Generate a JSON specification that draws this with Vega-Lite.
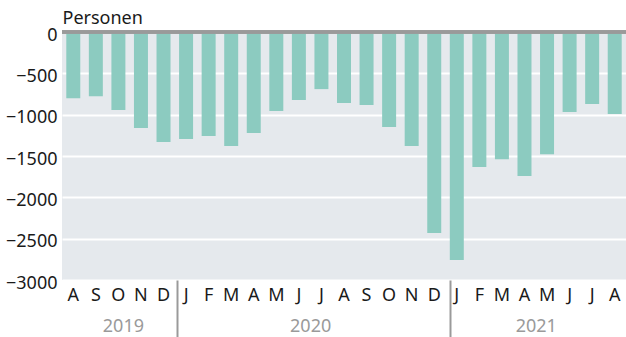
{
  "$schema": "https://vega.github.io/schema/vega-lite/v6.json",
  "width": 564,
  "height": 248,
  "autosize": {"type": "none"},
  "padding": {"left": 62, "top": 32, "right": 0, "bottom": 57},
  "background": "white",
  "config": {"font": "Noto Sans", "view": {"fill": "#e5e9ed", "stroke": null}},
  "data": {"values": [
    {"ym": "2019-08", "v": -800},
    {"ym": "2019-09", "v": -776},
    {"ym": "2019-10", "v": -945},
    {"ym": "2019-11", "v": -1162},
    {"ym": "2019-12", "v": -1331},
    {"ym": "2020-01", "v": -1295},
    {"ym": "2020-02", "v": -1259},
    {"ym": "2020-03", "v": -1380},
    {"ym": "2020-04", "v": -1222},
    {"ym": "2020-05", "v": -957},
    {"ym": "2020-06", "v": -824},
    {"ym": "2020-07", "v": -691},
    {"ym": "2020-08", "v": -860},
    {"ym": "2020-09", "v": -884},
    {"ym": "2020-10", "v": -1150},
    {"ym": "2020-11", "v": -1380},
    {"ym": "2020-12", "v": -2430},
    {"ym": "2021-01", "v": -2757},
    {"ym": "2021-02", "v": -1633},
    {"ym": "2021-03", "v": -1540},
    {"ym": "2021-04", "v": -1742},
    {"ym": "2021-05", "v": -1480},
    {"ym": "2021-06", "v": -969},
    {"ym": "2021-07", "v": -872},
    {"ym": "2021-08", "v": -993}
  ]},
  "layer": [
    {
      "mark": {"type": "bar", "color": "#8ccbc0"},
      "encoding": {
        "x": {
          "field": "ym", "type": "ordinal", "sort": null,
          "scale": {"paddingInner": 0.38, "paddingOuter": 0.19},
          "axis": {
            "orient": "bottom", "title": null, "domain": false, "ticks": false,
            "labelAngle": 0, "labelFontSize": 18, "labelColor": "#1a1a1a",
            "labelPadding": 6, "labelOverlap": false,
            "labelExpr": "['J','F','M','A','M','J','J','A','S','O','N','D'][toNumber(substring(datum.value,5,7))-1]"
          }
        },
        "y": {
          "field": "v", "type": "quantitative",
          "scale": {"domain": [-3000, 0], "nice": false, "zero": false},
          "axis": {
            "values": [-3000, -2500, -2000, -1500, -1000, -500, 0],
            "format": "d", "grid": true, "gridColor": "white", "gridWidth": 2,
            "domain": false, "ticks": false, "labelPadding": 5,
            "labelFontSize": 18, "labelColor": "#1a1a1a",
            "labelBaseline": "middle", "labelOffset": 3,
            "title": "Personen", "titleAngle": 0, "titleAlign": "left",
            "titleBaseline": "alphabetic", "titleX": 0, "titleY": -9,
            "titleFontSize": 18, "titleFontWeight": "normal", "titleColor": "#1a1a1a"
          }
        }
      }
    },
    {
      "mark": {"type": "rule", "color": "#9a9a9a", "strokeWidth": 2.5},
      "encoding": {"y": {"datum": 0}}
    },
    {
      "data": {"values": [
        {"year": "2019", "pos": 2.7},
        {"year": "2020", "pos": 11},
        {"year": "2021", "pos": 21}
      ]},
      "mark": {"type": "rule", "opacity": 0},
      "encoding": {
        "x": {
          "field": "pos", "type": "quantitative",
          "scale": {"domain": [0, 25], "nice": false, "zero": false},
          "axis": {
            "orient": "bottom", "title": null, "values": [2.7, 11, 21],
            "labelExpr": "datum.value < 5 ? '2019' : datum.value < 17 ? '2020' : '2021'",
            "domain": false, "ticks": false, "grid": false,
            "labelPadding": 37, "labelColor": "#9a9a9a", "labelFontSize": 18,
            "labelFlush": false, "labelOverlap": false
          }
        }
      }
    },
    {
      "data": {"values": [{"sep": 5.1}, {"sep": 17.2}]},
      "mark": {"type": "rule", "opacity": 0},
      "encoding": {
        "x": {
          "field": "sep", "type": "quantitative",
          "scale": {"domain": [0, 25], "nice": false, "zero": false},
          "axis": {
            "orient": "bottom", "title": null, "values": [5.1, 17.2],
            "labels": false, "domain": false, "ticks": true, "grid": false,
            "tickSize": 57, "tickColor": "#9a9a9a", "tickWidth": 2
          }
        }
      }
    }
  ],
  "resolve": {"scale": {"x": "independent"}, "axis": {"x": "independent"}}
}
